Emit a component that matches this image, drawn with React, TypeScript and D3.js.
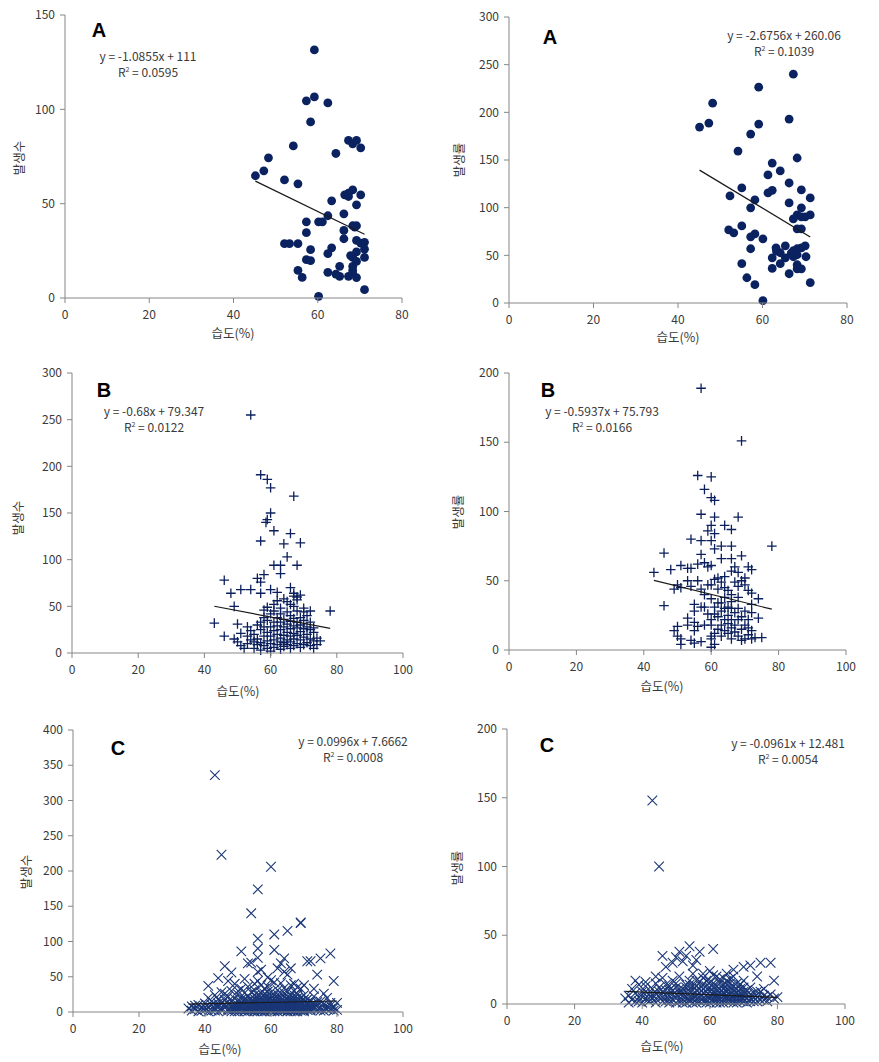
import React from "react";
import * as d3 from "d3";

// ---------- DATA ----------
const xTicks80 = [0, 20, 40, 60, 80];
const xTicks100 = [0, 20, 40, 60, 80, 100];
const yTicksA1 = [0, 50, 100, 150];
const yTicksA2 = [0, 50, 100, 150, 200, 250, 300];
const yTicksB1 = [0, 50, 100, 150, 200, 250, 300];
const yTicksB2 = [0, 50, 100, 150, 200];
const yTicksC1 = [0, 50, 100, 150, 200, 250, 300, 350, 400];
const yTicksC2 = [0, 50, 100, 150, 200];

const xTitle = "습도(%)";
const yTitleCount = "발생수";
const yTitleRate = "발생률";

// Panel A (left): humidity vs count
const dataA1: [number, number][] = [
  [59.2, 131.5], [57.3, 104.5], [59.2, 106.6], [62.4, 103.4], [58.3, 93.3], [54.2, 80.6],
  [48.3, 74.3], [47.2, 67.4], [45.2, 64.8], [52.1, 62.6], [55.3, 60.5], [64.3, 76.6],
  [67.3, 83.5], [68.3, 81.7], [69.2, 83.5], [70.2, 79.6], [68.3, 57.3], [67.3, 55.6],
  [66.4, 54.7], [67.3, 53.8], [70.2, 54.7], [63.3, 51.5], [69.2, 49.4], [66.2, 44.6],
  [62.4, 43.6], [60.2, 40.4], [61.1, 40.4], [57.3, 40.4], [57.3, 34.6], [66.2, 35.8],
  [68.3, 38.3], [69.2, 38.3], [66.2, 31.4], [52.1, 28.8], [53.3, 28.8], [55.3, 28.8],
  [69.2, 30.5], [70.2, 29.1], [71.1, 29.5], [71.1, 25.9], [58.3, 25.6], [63.3, 26.6],
  [62.4, 23.5], [69.2, 24.4], [68.3, 21.5], [71.1, 21.5], [69.2, 19.4], [57.3, 20.3],
  [58.3, 19.8], [68.3, 16.8], [68.3, 14.6], [65.2, 16.8], [55.3, 14.6], [56.3, 10.9],
  [62.4, 13.6], [64.3, 12.7], [65.2, 11.5], [67.3, 11.5], [68.3, 12.9], [69.2, 10.8],
  [71.1, 4.4], [60.2, 0.9], [67.8, 22.5], [68.8, 37.6]
];

// Panel A (right): humidity vs rate
const dataA2: [number, number][] = [
  [67.3, 240], [59.1, 226.4], [48.2, 209.6], [47.3, 188.7], [45.1, 184.5], [59.1, 187.7],
  [57.2, 177.2], [66.3, 192.9], [54.2, 159.4], [68.2, 152.1], [62.3, 146.8], [64.2, 138.5],
  [61.3, 134.3], [66.3, 125.9], [55.1, 120.7], [61.3, 115.5], [62.3, 118.2], [69.2, 118.6],
  [52.3, 112.3], [71.3, 110.2], [58.2, 108.1], [66.3, 105], [57.2, 99.8], [69.2, 99.8],
  [68.2, 92.4], [67.3, 88.2], [69.2, 90.3], [70.1, 90.3], [71.3, 92.4], [68.2, 77.8],
  [69.2, 77.8], [52, 76.7], [53.2, 73.6], [55.1, 80.9], [57.2, 69.4], [58.2, 72.5],
  [60.1, 67.3], [57.2, 56.9], [63.2, 57.9], [62.3, 47.4], [64.2, 52.7], [65.4, 60],
  [67.3, 54.8], [68.2, 56.9], [69.2, 57.9], [70.1, 60], [67.3, 48.5], [68.2, 50.6],
  [65.4, 47.4], [70.3, 48.5], [64.2, 41.2], [55.1, 41.2], [62.3, 36.3], [68.2, 40.1],
  [68.2, 35.9], [69.2, 35.9], [66.3, 30.7], [56.3, 26.5], [58.2, 19.2], [71.3, 21.3],
  [60.1, 2.4], [63.3, 54.5], [66.8, 52.2]
];

// Panel B (left)
const dataB1: [number, number][] = [
  [54, 255], [57, 191], [59, 186], [60, 177], [67, 168], [60, 150], [59, 143], [58.6, 140],
  [61, 131], [66, 128], [57, 120], [64, 117], [69, 118], [65, 103], [61, 94], [63, 94],
  [68, 94], [63, 85], [58, 84], [56, 80], [57, 76], [46, 78], [48, 64], [51, 68], [54, 68],
  [57, 64], [60, 68], [62, 65], [66, 70], [67, 64], [68, 60], [67, 61], [49, 50], [78, 45],
  [43, 32], [46, 18], [62, 56], [64, 58], [66, 52], [68, 57], [69, 62], [70, 48], [61, 52],
  [63, 48], [59, 49], [58, 46], [65, 55], [67, 50],
  [50, 31], [51, 21], [49, 15], [50, 12], [51, 8], [52, 5], [53, 28], [53, 18], [53, 10],
  [54, 14], [54, 24], [55, 5], [55, 12], [55, 20], [56, 30], [56, 9], [56, 15], [57, 3],
  [57, 33], [57, 11], [57, 25], [58, 8], [58, 18], [58, 38], [58, 28], [59, 13], [59, 22],
  [59, 35], [59, 5], [60, 2], [60, 10], [60, 28], [60, 42], [60, 18], [61, 6], [61, 14],
  [61, 24], [61, 33], [61, 45], [62, 9], [62, 20], [62, 29], [62, 38], [63, 4], [63, 12],
  [63, 16], [63, 25], [63, 33], [63, 42], [64, 7], [64, 11], [64, 19], [64, 28], [64, 36],
  [65, 9], [65, 14], [65, 22], [65, 31], [65, 44], [66, 5], [66, 12], [66, 18], [66, 26],
  [66, 34], [66, 40], [67, 8], [67, 15], [67, 21], [67, 29], [67, 37], [68, 10], [68, 19],
  [68, 27], [68, 33], [68, 45], [69, 6], [69, 14], [69, 23], [69, 30], [69, 38], [70, 9],
  [70, 17], [70, 26], [70, 35], [70, 44], [71, 11], [71, 20], [71, 28], [71, 40], [72, 8],
  [72, 15], [72, 25], [72, 33], [72, 45], [73, 5], [73, 13], [73, 22], [74, 16], [75, 13],
  [74, 9], [73, 27]
];

// Panel B (right)
const dataB2: [number, number][] = [
  [57, 189], [69, 151], [56, 126], [60, 125], [58, 116], [60, 110], [61, 108], [57, 98],
  [61, 96], [68, 96], [60, 90], [64, 90], [66, 87], [59, 86], [61, 84], [54, 80], [57, 79],
  [60, 79], [63, 75], [61, 73], [66, 75], [78, 75], [46, 70], [57, 69], [63, 66], [69, 68],
  [66, 66], [58, 63], [60, 61], [43, 56], [48, 58], [51, 61], [53, 59], [54, 59], [56, 62],
  [59, 60], [67, 60], [71, 60], [72, 58], [68, 56], [66, 57], [62, 52], [64, 53], [70, 52],
  [49, 44], [50, 47], [51, 45], [53, 50], [54, 46], [56, 50], [57, 44], [58, 40], [59, 47],
  [60, 47], [61, 51], [62, 44], [63, 49], [64, 45], [65, 43], [66, 40], [67, 49], [68, 46],
  [69, 50], [70, 47], [71, 43], [72, 41], [74, 37], [46, 32], [60, 37], [62, 34], [64, 38],
  [66, 35], [68, 38], [72, 33],
  [49, 14], [50, 17], [50, 10], [51, 4], [51, 8], [53, 23], [53, 18], [54, 7], [55, 33],
  [55, 28], [55, 20], [55, 14], [55, 5], [56, 17], [57, 6], [57, 31], [58, 18], [58, 31],
  [59, 26], [60, 2], [60, 8], [60, 10], [60, 18], [60, 22], [61, 4], [61, 12], [61, 26],
  [61, 31], [62, 24], [62, 15], [63, 10], [63, 18], [63, 28], [63, 34], [64, 14], [64, 22],
  [64, 30], [65, 12], [65, 19], [65, 25], [65, 31], [66, 8], [66, 16], [66, 22], [66, 30],
  [67, 13], [67, 18], [67, 27], [68, 10], [68, 22], [68, 30], [69, 7], [69, 15], [69, 24],
  [70, 8], [70, 18], [70, 28], [71, 11], [71, 16], [71, 22], [72, 8], [72, 14], [72, 27],
  [73, 9], [74, 23], [75, 9]
];

// Panel C (left)
const dataC1: [number, number][] = [
  [43, 336], [45, 223], [60, 206], [56, 174], [54, 140], [69, 127], [69, 126], [56, 104],
  [61, 110], [65, 115], [51, 86], [61, 88], [56, 90], [54, 70], [56, 77], [64, 76], [63, 69],
  [72, 72], [75, 76], [78, 83], [46, 65], [44, 48], [41, 37], [48, 56], [74, 53], [79, 44],
  [56, 57], [59, 49], [64, 57], [65, 53], [76, 26], [80, 13], [71, 72], [57, 60], [53, 69],
  [62, 62], [66, 62], [60, 45], [52, 47], [49, 40], [55, 40], [58, 33], [67, 40], [70, 38],
  [73, 33], [63, 41], [68, 35], [46, 26], [47, 44], [50, 30],
  [35, 5], [36, 2], [36, 8], [37, 4], [38, 1], [38, 10], [39, 6], [40, 3], [40, 12], [41, 7],
  [41, 20], [42, 2], [42, 15], [43, 5], [43, 24], [43, 10], [44, 1], [44, 18], [44, 8], [45, 3],
  [45, 13], [45, 28], [46, 6], [46, 17], [47, 2], [47, 11], [47, 22], [48, 4], [48, 15], [48, 30],
  [49, 7], [49, 19], [49, 1], [50, 10], [50, 25], [50, 4], [51, 14], [51, 2], [51, 33], [51, 8],
  [52, 6], [52, 18], [52, 27], [52, 1], [53, 11], [53, 4], [53, 22], [53, 36], [54, 8], [54, 15],
  [54, 2], [54, 28], [55, 5], [55, 12], [55, 19], [55, 1], [55, 31], [56, 9], [56, 3], [56, 16],
  [56, 24], [56, 44], [57, 6], [57, 13], [57, 1], [57, 20], [57, 38], [58, 4], [58, 10], [58, 17],
  [58, 26], [59, 2], [59, 8], [59, 14], [59, 22], [59, 36], [60, 5], [60, 11], [60, 1], [60, 19],
  [60, 28], [61, 3], [61, 9], [61, 15], [61, 24], [61, 42], [62, 6], [62, 12], [62, 1], [62, 20],
  [62, 31], [63, 4], [63, 9], [63, 16], [63, 26], [64, 2], [64, 7], [64, 13], [64, 21], [64, 34],
  [65, 5], [65, 10], [65, 18], [65, 1], [65, 29], [66, 3], [66, 8], [66, 14], [66, 23], [66, 38],
  [67, 6], [67, 12], [67, 1], [67, 19], [67, 30], [68, 4], [68, 9], [68, 16], [68, 25], [69, 2],
  [69, 11], [69, 20], [69, 33], [70, 6], [70, 14], [70, 1], [70, 24], [71, 3], [71, 10], [71, 18],
  [72, 7], [72, 15], [72, 2], [73, 5], [73, 12], [73, 22], [74, 3], [74, 9], [75, 6], [75, 15],
  [76, 2], [76, 11], [77, 8], [77, 20], [78, 4], [78, 13], [79, 6], [80, 3],
  [45, 6], [46, 11], [47, 4], [47, 15], [48, 8], [48, 1], [49, 12], [49, 4], [50, 7], [50, 16],
  [50, 1], [51, 5], [51, 11], [51, 18], [52, 3], [52, 9], [52, 14], [53, 7], [53, 1], [53, 16],
  [54, 4], [54, 11], [54, 19], [55, 2], [55, 8], [55, 15], [55, 24], [56, 6], [56, 12], [56, 1],
  [56, 20], [57, 3], [57, 9], [57, 16], [57, 27], [58, 1], [58, 7], [58, 13], [58, 21], [59, 5],
  [59, 11], [59, 18], [59, 29], [60, 3], [60, 8], [60, 14], [60, 23], [61, 1], [61, 6], [61, 12],
  [61, 19], [62, 4], [62, 9], [62, 15], [62, 25], [63, 2], [63, 7], [63, 12], [63, 20], [64, 4],
  [64, 10], [64, 16], [64, 27], [65, 2], [65, 7], [65, 13], [65, 22], [66, 1], [66, 5], [66, 11],
  [66, 18], [67, 3], [67, 8], [67, 15], [67, 24], [68, 1], [68, 6], [68, 12], [68, 20], [69, 4],
  [69, 8], [69, 15], [70, 3], [70, 10], [70, 18], [71, 6], [71, 13], [72, 4], [72, 10], [73, 8],
  [74, 14], [75, 2], [76, 7], [77, 4], [78, 9], [79, 2], [37, 9], [39, 2], [40, 7], [41, 1],
  [42, 10], [43, 2], [44, 12]
];

// Panel C (right)
const dataC2: [number, number][] = [
  [43, 148], [45, 100], [61, 40], [54, 42], [51, 38], [53, 35], [46, 35], [49, 30], [57, 38],
  [56, 32], [72, 28], [75, 30], [78, 30], [79, 17], [74, 20], [76, 11], [38, 17], [41, 13],
  [35, 4], [44, 20], [52, 31], [55, 28], [50, 34], [47, 27], [58, 22], [65, 22], [67, 25],
  [70, 27], [62, 20], [60, 24],
  [36, 1], [36, 6], [37, 3], [37, 11], [38, 2], [38, 8], [39, 5], [39, 14], [40, 1], [40, 9],
  [41, 4], [41, 16], [42, 7], [42, 2], [43, 11], [43, 4], [44, 1], [44, 8], [44, 15], [45, 5],
  [45, 12], [46, 2], [46, 9], [46, 19], [47, 6], [47, 14], [48, 3], [48, 10], [48, 1], [49, 7],
  [49, 17], [50, 4], [50, 12], [50, 1], [51, 8], [51, 20], [52, 3], [52, 11], [52, 6], [53, 1],
  [53, 14], [53, 9], [54, 5], [54, 17], [54, 2], [55, 10], [55, 7], [55, 22], [56, 3], [56, 13],
  [56, 1], [57, 8], [57, 16], [57, 5], [58, 2], [58, 11], [58, 19], [59, 6], [59, 13], [59, 1],
  [60, 4], [60, 9], [60, 16], [61, 2], [61, 7], [61, 12], [61, 21], [62, 5], [62, 10], [62, 1],
  [63, 3], [63, 8], [63, 15], [64, 6], [64, 11], [64, 1], [64, 19], [65, 4], [65, 9], [65, 14],
  [66, 2], [66, 7], [66, 12], [66, 18], [67, 5], [67, 10], [67, 1], [68, 3], [68, 8], [68, 15],
  [69, 6], [69, 11], [69, 2], [70, 4], [70, 9], [70, 17], [71, 1], [71, 7], [72, 4], [72, 12],
  [73, 2], [73, 8], [74, 5], [75, 3], [75, 9], [76, 6], [77, 2], [78, 7], [79, 4], [80, 5],
  [44, 4], [45, 9], [46, 5], [47, 2], [47, 10], [48, 6], [48, 13], [49, 3], [49, 10], [50, 7],
  [50, 15], [51, 2], [51, 11], [52, 8], [52, 1], [53, 5], [53, 12], [54, 3], [54, 9], [54, 14],
  [55, 1], [55, 4], [55, 13], [56, 6], [56, 10], [56, 17], [57, 2], [57, 11], [58, 4], [58, 8],
  [58, 14], [59, 3], [59, 9], [59, 17], [60, 1], [60, 6], [60, 12], [61, 4], [61, 9], [61, 15],
  [62, 3], [62, 7], [62, 13], [63, 1], [63, 5], [63, 11], [63, 18], [64, 3], [64, 8], [64, 14],
  [65, 2], [65, 6], [65, 11], [65, 17], [66, 4], [66, 9], [66, 15], [67, 3], [67, 7], [67, 13],
  [67, 20], [68, 1], [68, 5], [68, 11], [69, 4], [69, 8], [69, 14], [70, 2], [70, 6], [70, 12],
  [71, 4], [71, 10], [72, 2], [72, 7], [73, 5], [74, 2], [74, 9], [76, 3], [77, 5], [40, 5],
  [42, 4], [43, 7], [39, 2], [41, 9]
];

// Trendline coefficients (slope, intercept) and labels
const trendA1 = [-1.0855, 111];
const trendA2 = [-2.6756, 260.06];
const trendB1 = [-0.68, 79.347];
const trendB2 = [-0.5937, 75.793];
const trendC1 = [0.0996, 7.6662];
const trendC2 = [-0.0961, 12.481];
const eqA1 = ["y = -1.0855x + 111", "0.0595"];
const eqA2 = ["y = -2.6756x + 260.06", "0.1039"];
const eqB1 = ["y = -0.68x + 79.347", "0.0122"];
const eqB2 = ["y = -0.5937x + 75.793", "0.0166"];
const eqC1 = ["y = 0.0996x + 7.6662", "0.0008"];
const eqC2 = ["y = -0.0961x + 12.481", "0.0054"];

// ---------- LAYOUT ----------
type Marker = "circle" | "plus" | "cross";
interface PanelCfg {
  data: [number, number][];
  left: number; right: number; top: number; bottom: number;
  xMax: number; yMax: number; xTicks: number[]; yTicks: number[];
  marker: Marker; trend: number[]; eq: string[];
  letter: string; letterPos: [number, number];
  eqPos: [number, number];
  yTitle: string; yTitlePos: [number, number]; xTitlePos: [number, number];
}

const panels: PanelCfg[] = [
  { data: dataA1, left: 65, right: 402, top: 15, bottom: 298, xMax: 80, yMax: 150, xTicks: xTicks80, yTicks: yTicksA1,
    marker: "circle", trend: trendA1, eq: eqA1, letter: "A", letterPos: [99, 37], eqPos: [148, 61],
    yTitle: yTitleCount, yTitlePos: [20, 158], xTitlePos: [233, 338] },
  { data: dataA2, left: 509, right: 847, top: 17, bottom: 303, xMax: 80, yMax: 300, xTicks: xTicks80, yTicks: yTicksA2,
    marker: "circle", trend: trendA2, eq: eqA2, letter: "A", letterPos: [550, 44], eqPos: [784, 40],
    yTitle: yTitleRate, yTitlePos: [460, 160], xTitlePos: [678, 342] },
  { data: dataB1, left: 72, right: 403, top: 373, bottom: 653, xMax: 100, yMax: 300, xTicks: xTicks100, yTicks: yTicksB1,
    marker: "plus", trend: trendB1, eq: eqB1, letter: "B", letterPos: [104, 397], eqPos: [154, 416],
    yTitle: yTitleCount, yTitlePos: [19, 518], xTitlePos: [238, 696] },
  { data: dataB2, left: 509, right: 846, top: 373, bottom: 650, xMax: 100, yMax: 200, xTicks: xTicks100, yTicks: yTicksB2,
    marker: "plus", trend: trendB2, eq: eqB2, letter: "B", letterPos: [548, 397], eqPos: [602, 416],
    yTitle: yTitleRate, yTitlePos: [459, 512], xTitlePos: [662, 691] },
  { data: dataC1, left: 73, right: 403, top: 730, bottom: 1012, xMax: 100, yMax: 400, xTicks: xTicks100, yTicks: yTicksC1,
    marker: "cross", trend: trendC1, eq: eqC1, letter: "C", letterPos: [118, 755], eqPos: [353, 746],
    yTitle: yTitleCount, yTitlePos: [27, 872], xTitlePos: [220, 1054] },
  { data: dataC2, left: 507, right: 845, top: 729, bottom: 1004, xMax: 100, yMax: 200, xTicks: xTicks100, yTicks: yTicksC2,
    marker: "cross", trend: trendC2, eq: eqC2, letter: "C", letterPos: [547, 752], eqPos: [788, 748],
    yTitle: yTitleRate, yTitlePos: [458, 868], xTitlePos: [662, 1051] },
];

const FONT = "'Noto Sans CJK KR', 'Noto Sans', sans-serif";
const AXIS = "#868686";
const TXT = "#3a3a3a";

function Panel({ p }: { p: PanelCfg }) {
  const x = d3.scaleLinear().domain([0, p.xMax]).range([p.left, p.right]);
  const y = d3.scaleLinear().domain([0, p.yMax]).range([p.bottom, p.top]);
  const [xmin, xmax] = d3.extent(p.data, (d) => d[0]) as [number, number];
  const line = d3.line<number>().x((v) => x(v)).y((v) => y(p.trend[0] * v + p.trend[1]));
  const s = 4.8;
  return (
    <g>
      {p.data.map((d, i) => {
        const cx = x(d[0]);
        const cy = y(d[1]);
        if (p.marker === "circle")
          return <circle key={i} cx={cx} cy={cy} r={4.4} fill="#0b2260" />;
        if (p.marker === "plus")
          return (
            <path key={i} d={`M${cx - s},${cy}H${cx + s}M${cx},${cy - s}V${cy + s}`}
              stroke="#0b1f5c" strokeWidth={1.3} fill="none" />
          );
        return (
          <path key={i} d={`M${cx - s},${cy - s}L${cx + s},${cy + s}M${cx - s},${cy + s}L${cx + s},${cy - s}`}
            stroke="#1a3778" strokeWidth={1.1} fill="none" />
        );
      })}
      <path d={line([xmin, xmax]) || ""} stroke="#1a1a1a" strokeWidth={1.2} fill="none" />
      <line x1={p.left} x2={p.left} y1={p.top} y2={p.bottom} stroke={AXIS} strokeWidth={1} />
      <line x1={p.left} x2={p.right} y1={p.bottom} y2={p.bottom} stroke={AXIS} strokeWidth={1} />
      {p.yTicks.map((t) => (
        <g key={"y" + t}>
          <line x1={p.left - 5} x2={p.left} y1={y(t)} y2={y(t)} stroke={AXIS} />
          <text x={p.left - 10} y={y(t)} dy="0.35em" textAnchor="end" fontSize={12} fill={TXT} fontFamily={FONT}>{t}</text>
        </g>
      ))}
      {p.xTicks.map((t) => (
        <g key={"x" + t}>
          <line x1={x(t)} x2={x(t)} y1={p.bottom} y2={p.bottom + 5} stroke={AXIS} />
          <text x={x(t)} y={p.bottom + 17} dy="0.35em" textAnchor="middle" fontSize={12} fill={TXT} fontFamily={FONT}>{t}</text>
        </g>
      ))}
      <text x={p.xTitlePos[0]} y={p.xTitlePos[1]} textAnchor="middle" fontSize={12.5} fill={TXT} fontFamily={FONT}>{xTitle}</text>
      <text transform={`translate(${p.yTitlePos[0]},${p.yTitlePos[1]}) rotate(-90)`} dy="0.35em" textAnchor="middle" fontSize={12.5} fill={TXT} fontFamily={FONT}>{p.yTitle}</text>
      <text x={p.letterPos[0]} y={p.letterPos[1]} textAnchor="middle" fontSize={20} fontWeight="bold" fill="#000" fontFamily="'Liberation Sans', Arial, sans-serif">{p.letter}</text>
      <text x={p.eqPos[0]} y={p.eqPos[1]} textAnchor="middle" fontSize={12} fill={TXT} fontFamily={FONT}>{p.eq[0]}</text>
      <text x={p.eqPos[0]} y={p.eqPos[1] + 16} textAnchor="middle" fontSize={12} fill={TXT} fontFamily={FONT}>
        R<tspan fontSize={7} dy={-5}>2</tspan><tspan dy={5}> = {p.eq[1]}</tspan>
      </text>
    </g>
  );
}

export default function App() {
  return (
    <svg width={879} height={1062} style={{ position: "absolute", left: 0, top: 0, background: "#fff" }}>
      <rect width={879} height={1062} fill="#fff" />
      {panels.map((p, i) => <Panel key={i} p={p} />)}
    </svg>
  );
}
